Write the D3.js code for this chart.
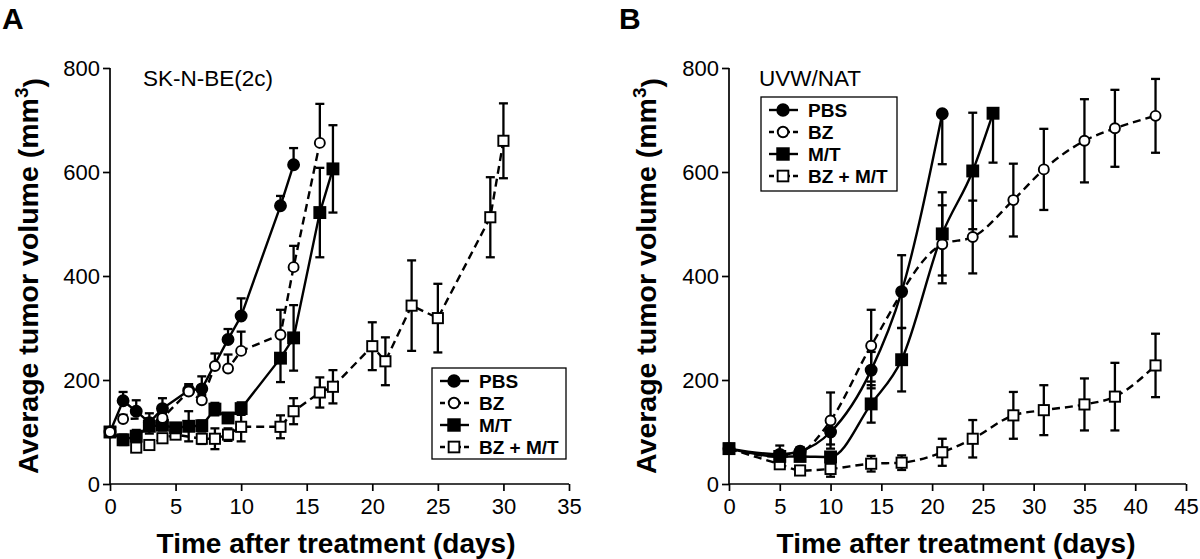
<!DOCTYPE html>
<html><head><meta charset="utf-8">
<script src="https://cdn.jsdelivr.net/npm/d3@7"></script>
<style>body{margin:0;background:#fff}svg{display:block}</style>
</head><body><svg id="c" width="1200" height="559"></svg>
<script>
// ---------- data ----------
const yTicks = [0, 200, 400, 600, 800];
const xTicksA = [0, 5, 10, 15, 20, 25, 30, 35];
const xTicksB = [0, 5, 10, 15, 20, 25, 30, 35, 40, 45];
const seriesNames = ["PBS", "BZ", "M/T", "BZ + M/T"];
const titleA = "SK-N-BE(2c)";
const titleB = "UVW/NAT";

// Panel A: SK-N-BE(2c)  (PBS and BZ error bars drawn upward only)
const aPbsDays = [0, 1, 2, 3, 4, 6, 7, 9, 10, 13, 14];
const aPbsVals = [100, 160, 140, 118, 145, 180, 183, 278, 323, 535, 614];
const aPbsErrUp  = [0, 17, 21, 18, 20, 12, 24, 20, 34, 19, 32];
const aPbsErrDown = [0, 0, 0, 0, 0, 0, 0, 0, 0, 0, 0];

const aBzDays = [0, 1, 4, 6, 7, 8, 9, 10, 13, 14, 16];
const aBzVals = [100, 125, 127, 178, 161, 227, 222, 256, 287, 417, 656];
const aBzErrUp  = [0, 8, 10, 10, 10, 24, 27, 37, 48, 41, 75];
const aBzErrDown = [0, 0, 0, 0, 0, 0, 0, 0, 0, 0, 0];

const aMtDays = [0, 1, 2, 3, 4, 5, 6, 7, 8, 9, 10, 13, 14, 16, 17];
const aMtVals = [100, 85, 92, 111, 113, 108, 111, 112, 144, 127, 145, 242, 281, 522, 606];
const aMtErr  = [0, 10, 12, 14, 10, 8, 29, 10, 12, 8, 12, 46, 63, 86, 84];

const aCombDays = [0, 2, 3, 4, 5, 7, 8, 9, 10, 13, 14, 16, 17, 20, 21, 23, 25, 29, 30];
const aCombVals = [100, 70, 75, 88, 95, 87, 87, 95, 110, 110, 140, 176, 187, 265, 236, 343, 319, 513, 660];
const aCombErr  = [0, 8, 8, 8, 8, 10, 20, 12, 28, 22, 25, 29, 32, 46, 46, 87, 66, 77, 72];

// Panel B: UVW/NAT
const bPbsDays = [0, 5, 7, 10, 14, 17, 21];
const bPbsVals = [68, 57, 63, 100, 219, 370, 712];
const bPbsErrDown = [0, 17, 8, 24, 35, 70, 97];
const bPbsErrUp   = [0, 17, 8, 24, 35, 70, 0];

const bBzDays = [0, 5, 7, 10, 14, 21, 24, 28, 31, 35, 38, 42];
const bBzVals = [68, 52, 60, 122, 266, 461, 475, 546, 605, 660, 684, 708];
const bBzErr  = [0, 10, 8, 54, 69, 75, 70, 70, 78, 80, 74, 71];

const bMtDays = [0, 5, 7, 10, 14, 17, 21, 24, 26];
const bMtVals = [68, 53, 53, 52, 154, 239, 481, 602, 713];
const bMtErrDown = [0, 10, 6, 8, 36, 61, 80, 112, 95];
const bMtErrUp   = [0, 10, 6, 8, 36, 61, 80, 112, 0];

const bCombDays = [0, 5, 7, 10, 14, 17, 21, 24, 28, 31, 35, 38, 42];
const bCombVals = [68, 38, 26, 29, 39, 41, 61, 87, 132, 142, 153, 168, 228];
const bCombErr  = [0, 8, 5, 15, 15, 14, 26, 36, 45, 48, 50, 65, 61];

// ---------- drawing ----------
const svg = d3.select("#c");
const FONT = "'Liberation Sans', Arial, Helvetica, sans-serif";

const styles = [
  {shape: "circle", fill: "#000", dash: null},
  {shape: "circle", fill: "#fff", dash: "8,5"},
  {shape: "square", fill: "#000", dash: null},
  {shape: "square", fill: "#fff", dash: "8,5"}
];

function zipSeries(days, vals, errDown, errUp) {
  return days.map((d, i) => ({x: d, y: vals[i], lo: errDown[i], hi: errUp[i]}));
}

function drawMarker(g, shape, fill, cx, cy, scale) {
  const s = scale || 1;
  if (shape === "circle") {
    g.append("circle").attr("cx", cx).attr("cy", cy)
      .attr("r", (fill === "#000" ? 5.5 : 5.0) * s)
      .attr("fill", fill).attr("stroke", "#000").attr("stroke-width", 1.9);
  } else {
    const h = (fill === "#000" ? 5.5 : 5.1) * s;
    g.append("rect").attr("x", cx - h).attr("y", cy - h)
      .attr("width", 2 * h).attr("height", 2 * h)
      .attr("fill", fill).attr("stroke", "#000").attr("stroke-width", 1.9);
  }
}

function panel(cfg) {
  const x = d3.scaleLinear().domain(cfg.xDomain).range([cfg.left, cfg.right]);
  const y = d3.scaleLinear().domain([0, 800]).range([484, 68]);
  const g = svg.append("g");

  // axes
  const xAxis = d3.axisBottom(x).tickValues(cfg.xTicks).tickSize(7).tickPadding(3).tickFormat(d3.format("d"));
  const yAxis = d3.axisLeft(y).tickValues(yTicks).tickSize(7).tickPadding(3).tickFormat(d3.format("d"));
  const gx = g.append("g").attr("transform", `translate(0,484)`).call(xAxis);
  const gy = g.append("g").attr("transform", `translate(${cfg.left},0)`).call(yAxis);
  [gx, gy].forEach(a => {
    a.select(".domain").attr("stroke", "#000").attr("stroke-width", 1.7);
    a.selectAll(".tick line").attr("stroke", "#000").attr("stroke-width", 1.7);
    a.selectAll(".tick text").attr("fill", "#000").style("font-family", FONT).style("font-size", "22px");
  });
  gx.select(".domain").attr("d", `M${cfg.left},0H${cfg.right}`);
  gy.select(".domain").attr("d", `M0,484V68`);
  gx.selectAll(".tick text").attr("dy", "0.92em");
  gy.selectAll(".tick text").attr("dy", "0.36em");

  // clip
  const clipId = "clip" + cfg.id;
  svg.append("clipPath").attr("id", clipId).append("rect")
    .attr("x", cfg.left - 20).attr("y", 60).attr("width", cfg.right - cfg.left + 40).attr("height", 484 - 60 + 10);
  const plot = g.append("g").attr("clip-path", `url(#${clipId})`);

  const line = d3.line().x(d => x(d.x)).y(d => y(d.y)).curve(cfg.curve);

  // lines
  cfg.series.forEach((s, i) => {
    plot.append("path").datum(s).attr("d", line)
      .attr("fill", "none").attr("stroke", "#000").attr("stroke-width", 2.4)
      .attr("stroke-dasharray", styles[i].dash);
  });
  // error bars
  cfg.series.forEach((s, i) => {
    s.forEach(d => {
      if (!d.hi && !d.lo) return;
      const top = y(d.y + d.hi);
      const bot = y(d.y - d.lo);
      const cx = x(d.x);
      plot.append("line").attr("x1", cx).attr("x2", cx).attr("y1", top).attr("y2", bot)
        .attr("stroke", "#000").attr("stroke-width", 2.3);
      if (d.hi) plot.append("line").attr("x1", cx - 4.5).attr("x2", cx + 4.5).attr("y1", top).attr("y2", top)
        .attr("stroke", "#000").attr("stroke-width", 2.3);
      if (d.lo) plot.append("line").attr("x1", cx - 4.5).attr("x2", cx + 4.5).attr("y1", bot).attr("y2", bot)
        .attr("stroke", "#000").attr("stroke-width", 2.3);
    });
  });
  // markers
  cfg.order.forEach(i => {
    cfg.series[i].forEach(d => drawMarker(plot, styles[i].shape, styles[i].fill, x(d.x), y(d.y)));
  });

  // titles
  g.append("text").attr("x", cfg.titleX).attr("y", 86).text(cfg.title)
    .style("font-family", FONT).style("font-size", "22.5px").attr("fill", "#000");
  g.append("text").attr("x", cfg.letterX).attr("y", 29).text(cfg.letter)
    .style("font-family", FONT).style("font-size", "30px").style("font-weight", "bold").attr("fill", "#000");
  g.append("text").attr("x", cfg.xTitleX).attr("y", 553).attr("text-anchor", "middle")
    .text("Time after treatment (days)")
    .style("font-family", FONT).style("font-size", "28px").style("font-weight", "bold").attr("fill", "#000");
  const yt = g.append("text").attr("transform", `translate(${cfg.yTitleX},276) rotate(-90)`)
    .attr("text-anchor", "middle")
    .style("font-family", FONT).style("font-size", "28.5px").style("font-weight", "bold").attr("fill", "#000");
  yt.append("tspan").text("Average tumor volume (mm");
  yt.append("tspan").text("3").attr("dy", "-0.55em").style("font-size", "19px");
  yt.append("tspan").text(")").attr("dy", "0.55em");

  // legend
  const L = cfg.legend;
  g.append("rect").attr("x", L.x).attr("y", L.y).attr("width", L.w).attr("height", L.h)
    .attr("fill", "#fff").attr("stroke", "#000").attr("stroke-width", 1.3);
  seriesNames.forEach((name, i) => {
    const ly = L.y + 13 + i * 22;
    g.append("line").attr("x1", L.x + 8).attr("x2", L.x + 37).attr("y1", ly).attr("y2", ly)
      .attr("stroke", "#000").attr("stroke-width", 2.4)
      .attr("stroke-dasharray", styles[i].dash ? "5,3" : null);
    drawMarker(g, styles[i].shape, styles[i].fill, L.x + 22, ly, 1.05);
    g.append("text").attr("x", L.x + 47).attr("y", ly + 7).text(name)
      .style("font-family", FONT).style("font-size", "19px").style("font-weight", "bold").attr("fill", "#000");
  });
}

panel({
  id: "A", letter: "A", letterX: 2, title: titleA, titleX: 143,
  xDomain: [0, 35], xTicks: xTicksA, left: 110, right: 569, yTitleX: 38, xTitleX: 336,
  curve: d3.curveLinear,
  series: [
    zipSeries(aPbsDays, aPbsVals, aPbsErrDown, aPbsErrUp),
    zipSeries(aBzDays, aBzVals, aBzErrDown, aBzErrUp),
    zipSeries(aMtDays, aMtVals, aMtErr, aMtErr),
    zipSeries(aCombDays, aCombVals, aCombErr, aCombErr)
  ],
  order: [3, 2, 0, 1],
  legend: {x: 432, y: 368, w: 134, h: 91}
});

panel({
  id: "B", letter: "B", letterX: 619, title: titleB, titleX: 759,
  xDomain: [0, 45], xTicks: xTicksB, left: 729, right: 1186, yTitleX: 656, xTitleX: 956,
  curve: d3.curveMonotoneX,
  series: [
    zipSeries(bPbsDays, bPbsVals, bPbsErrDown, bPbsErrUp),
    zipSeries(bBzDays, bBzVals, bBzErr, bBzErr),
    zipSeries(bMtDays, bMtVals, bMtErrDown, bMtErrUp),
    zipSeries(bCombDays, bCombVals, bCombErr, bCombErr)
  ],
  order: [1, 3, 2, 0],
  legend: {x: 761, y: 97, w: 136, h: 94}
});
</script>
</body></html>
